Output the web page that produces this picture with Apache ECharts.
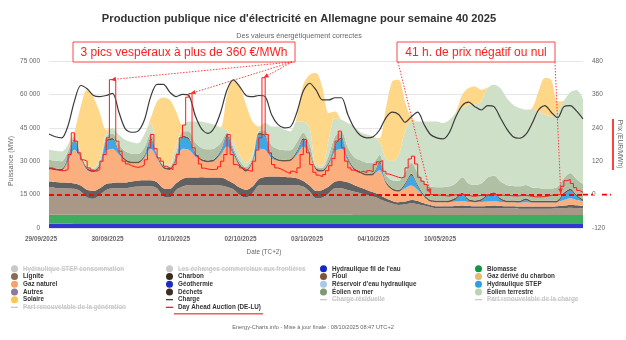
<!DOCTYPE html>
<html>
<head>
<meta charset="utf-8">
<script src="https://cdn.jsdelivr.net/npm/echarts@6/dist/echarts.min.js"></script>
<style>
  html, body { margin: 0; padding: 0; background: #ffffff; }
  #chart { width: 626px; height: 340px; }
</style>
</head>
<body>
<div id="chart"></div>
<script>
// ---- Data: week 40 2025, 2-hour samples (MW), Monday 00:00 -> next Monday 00:00 ----
const dayLabels = ['29/09/2025', '30/09/2025', '01/10/2025', '02/10/2025', '03/10/2025', '04/10/2025', '10/05/2025'];

const hydroRiver = [
  1900,1900,1900,1900,1850,1850,1850,1850,1850,1850,1850,1850,
  1850,1850,1850,1850,1850,1850,1850,1850,1850,1850,1850,1850,
  1850,1850,1850,1850,1850,1850,1850,1850,1850,1850,1850,1850,
  1850,1850,1850,1850,1850,1850,1850,1850,1800,1800,1800,1800,
  1750,1750,1750,1750,1750,1750,1750,1750,1750,1750,1750,1750,
  1750,1750,1750,1750,1750,1750,1750,1750,1750,1750,1750,1750,
  1750,1750,1750,1750,1750,1750,1750,1750,1750,1750,1750,1750,
  1750];
const biomass = [
  4000,4000,4000,4050,4100,4100,4100,4100,4100,4050,4050,4050,
  4050,4050,4050,4050,4050,4050,4050,4050,4050,4050,4050,4050,
  4050,4050,4050,4050,4050,4050,4050,4050,4050,4050,4050,4050,
  4050,4050,4050,4050,4050,4050,4050,4050,4100,4100,4100,4100,
  4100,4100,4100,4100,4100,4100,4100,4100,4100,4100,4100,4100,
  4100,4100,4100,4100,4100,4100,4100,4100,4100,4100,4100,4100,
  4100,4100,4100,4100,4100,4100,4100,4100,4100,4100,4100,4100,
  4100];
const lignite = [
  12250,12100,11950,11800,11650,10450,7750,7150,8950,11200,11950,11950,
  11950,12400,12700,12850,12850,11950,8200,7750,11200,12700,13450,13450,
  13450,13450,13300,13150,12550,11500,8950,7750,9700,13150,13450,13450,
  13450,13450,13450,13150,12700,10450,7450,7750,9700,11950,11950,11200,
  10500,9750,9000,8250,7200,6000,5100,4500,4800,5250,4800,4200,
  3600,3000,3000,3000,3000,3150,3000,3000,3000,3150,3150,3000,
  3000,3000,2850,2850,2850,2850,2850,2850,3000,3150,3300,3150,
  3000];
const hardCoal = [
  2700,2700,2550,2550,2400,2700,3450,3600,3000,2700,2400,2550,
  2550,2550,2700,2700,2700,2700,3750,3900,3000,3450,3300,3300,
  3450,3300,3450,3600,3150,2700,3300,3450,3000,3000,3600,3750,
  3750,3600,3450,3300,2550,2700,3300,3450,3000,3000,3300,3450,
  3000,2550,2250,1950,1800,1500,1200,1200,1200,1500,1500,1050,
  900,900,900,900,1050,1050,1050,900,900,900,1050,1050,
  900,900,900,900,900,900,900,900,900,1050,1200,1200,
  1050];
const gas = [
  5550,5250,5400,9600,15150,12300,9000,8400,9750,14550,15300,12450,
  9750,8250,7800,9900,14100,10800,9000,8550,9750,13500,12450,9450,
  7350,6900,7500,10200,15000,12750,9450,8250,10500,13500,12150,8250,
  7050,6900,7350,10500,15450,13800,9450,8250,9750,13500,14400,9300,
  6750,6450,6450,7800,11250,6750,4950,4800,6000,6450,4950,3000,
  1500,1800,1800,1950,1950,1950,1800,1800,1950,1950,1950,1800,
  1800,1800,1800,1950,1800,1800,1800,1800,1950,2550,3000,2400,
  2100];
const pumped = [
  0,0,0,1500,4000,300,0,0,0,4200,4050,1000,
  0,0,0,500,4050,500,0,0,1000,5100,4500,1000,
  0,0,0,1000,4500,1000,300,0,500,6300,6000,1000,
  0,0,0,1000,3000,500,0,0,500,2500,4500,1000,
  0,0,0,0,3000,0,0,0,1500,4500,1500,0,
  0,0,0,0,1000,3000,500,0,500,2500,3300,1000,
  0,0,0,1000,0,0,0,0,0,2500,3500,1500,
  0];
const waste = [
  800,800,800,800,800,800,800,800,800,800,800,800,
  800,800,800,800,800,800,800,800,800,800,800,800,
  800,800,800,800,800,800,800,800,800,800,800,800,
  800,800,800,800,800,800,800,800,800,800,800,800,
  800,800,800,800,800,800,800,800,800,800,800,800,
  800,800,800,800,800,800,800,800,800,800,800,800,
  800,800,800,800,800,800,800,800,800,800,800,800,
  800];
const windOffshore = [
  3500,3500,3400,2500,1500,600,600,600,1200,1500,2000,3000,
  3500,3500,3300,3500,2500,800,600,700,2000,2000,3000,4500,
  5000,5000,4800,3500,1000,1500,1500,1200,1000,700,2000,4000,
  4500,4300,4000,4000,2500,3500,700,900,3000,3500,2500,4500,
  5000,5000,5000,4800,3000,3000,3500,4000,5000,5000,5500,6000,
  6000,6000,6000,6200,6500,7000,7000,7000,7000,7500,7500,7500,
  7000,6500,6500,6000,6000,5800,5500,5500,6000,6500,7000,7000,
  7000];
const windOnshore = [
  4400,4400,4350,2700,1500,600,600,700,1800,1800,2450,4200,
  5150,5150,4900,5850,4200,900,600,800,3700,2150,4450,9450,
  11900,11750,10600,6850,1100,2700,2650,1750,1450,750,3200,8450,
  10150,9150,8400,9200,4950,7200,800,1100,7000,8200,5250,10950,
  13700,12600,12650,11550,5950,7450,8450,11700,18200,18500,22950,26950,
  29200,29500,28750,29900,31450,31050,35350,36000,36850,40200,40750,41850,
  39000,36500,35150,33750,34900,34350,33150,32400,33850,34600,36350,40100,
  38200];
const solar = [
  0,0,0,0,500,21000,34000,31500,20200,1500,0,0,
  0,0,0,0,2250,22500,29800,29200,15000,500,0,0,
  0,0,0,300,15850,27750,30750,26250,15000,1500,0,0,
  0,0,0,2250,16500,24000,41200,35000,12000,3000,0,0,
  0,0,0,0,1500,22500,36000,33750,13500,1500,0,0,
  0,0,0,0,500,6000,7500,8250,5250,300,0,0,
  0,0,0,0,750,9000,16500,16500,4500,300,0,0,
  0];
const load = [
  42200,41000,40500,46000,57000,64000,62500,59500,59000,59500,60500,52000,
  44500,43000,43500,48500,59000,64500,64500,61000,59000,60000,59500,50500,
  44500,42500,45000,52000,62000,66500,63500,59500,59000,59500,59000,51000,
  46500,45000,45500,52000,61500,65000,62000,57500,57500,58500,58500,51000,
  45000,41500,40500,41000,44000,49500,52000,51000,47500,50000,52000,46500,
  42000,40500,40000,43000,50000,55000,56500,54500,53000,55000,54500,49500,
  44500,41000,40300,42000,47000,53000,55000,52000,49500,54500,55000,52500,
  49000];

// Day-ahead price DE-LU, hourly (EUR/MWh)
const dayAheadPrice = [
  96,92,88,86,86,90,144,222,192,150,125,120,96,88,84,90,120,144,204,413,410,192,156,120,
  110,104,100,98,100,106,125,168,216,165,132,120,102,96,90,108,144,204,250,350,363,168,140,110,
  95,92,90,90,92,100,120,144,216,144,108,104,96,90,86,84,120,160,204,420,216,150,108,96,
  92,86,80,76,84,78,96,144,198,150,108,80,70,64,72,86,104,130,192,228,168,120,96,88,
  86,80,84,78,86,82,108,118,122,84,74,70,66,62,60,64,96,128,138,110,62,48,36,14,
  -0.01,-1,-2,-3,-4,-5,-3,-1,-0.5,-0.1,-0.01,-2,-5,-6,-4,-3,-1,-0.5,-0.01,-0.02,-0.5,-1,-2,-3,
  -3,-4,-5,-4,-3,-2,-4,-6,-8,-8,-8,-7,-5,-3,-1,-0.5,-0.01,30,50,54,40,25,15,8,
  6];

// ---- Chart ----
const FONT = '"Liberation Sans", Arial, sans-serif';
const T0 = Date.UTC(2025, 8, 29);           // Monday 29/09 00:00
const HOUR = 3600 * 1000;
const t = h => T0 + h * HOUR;
const xy = (step, vals) => vals.map((v, i) => [t(i * step), v]);

function area(name, vals, color, fill) {
  return {
    name, type: 'line', stack: 'prod', xAxisIndex: 0, yAxisIndex: 0,
    data: xy(2, vals), symbol: 'none', smooth: 0.3,
    color, lineStyle: { width: 0 }, areaStyle: { color: fill, opacity: 1 },
    emphasis: { disabled: true }, silent: true, z: 2
  };
}
// entries present in the legend without drawn values
function legendOnly(name, color) {
  return { name, type: 'line', data: [], symbol: 'none', color, lineStyle: { width: 0 } };
}
function lineOnly(name, color) {
  return { name, type: 'line', data: [], symbol: 'none', color, lineStyle: { width: 1.2 } };
}

const series = [
  area("Hydraulique fil de l'eau", hydroRiver, '#1227c4', '#3038cf'),
  area('Biomasse', biomass, '#0b9a3f', '#3dae60'),
  area('Lignite', lignite, '#8a6a52', '#a99888'),
  area('Charbon', hardCoal, '#3a2b1d', '#616161'),
  legendOnly('Fioul', '#80543a'),
  legendOnly('Gaz dérivé du charbon', '#e3bb72'),
  area('Gaz naturel', gas, '#f7a26a', '#fbae7e'),
  legendOnly('Géothermie', '#1a2bbf'),
  legendOnly("Réservoir d'eau hydraulique", '#a9c9ea'),
  area('Hydraulique STEP', pumped, '#2e9fe2', '#3ea8e6'),
  legendOnly('Autres', '#8c7a9c'),
  area('Déchets', waste, '#3e2d22', '#6a5444'),
  area('Éolien en mer', windOffshore, '#7d9b70', '#afc0a4'),
  area('Éolien terrestre', windOnshore, '#b7d4ad', '#cfe0c9'),
  area('Solaire', solar, '#ffc54f', '#fed789'),
  {
    name: 'Charge', type: 'line', data: xy(2, load), symbol: 'none', smooth: 0.3,
    color: '#3d3d3d', lineStyle: { width: 1.2, color: '#3a3a3a' }, z: 5, silent: true
  },
  {
    name: 'Day Ahead Auction (DE-LU)', type: 'line', yAxisIndex: 1, data: xy(1, dayAheadPrice),
    step: 'end', symbol: 'none', color: '#ff1a1a', lineStyle: { width: 1, color: '#ff1a1a' }, z: 6, silent: true,
    markLine: {
      silent: true, symbol: 'none', label: { show: false },
      lineStyle: { color: '#ff0000', type: [5, 3], width: 1.8 },
      emphasis: { disabled: true },
      data: [{ yAxis: 0 }]
    }
  },
  legendOnly('Hydraulique STEP consommation', '#9fb8d8'),
  legendOnly('Les échanges commerciaux aux frontières', '#9a9a9a'),
  lineOnly('Part renouvelable de la génération', '#5aa05a'),
  lineOnly('Charge résiduelle', '#777777'),
  lineOnly('Part renouvelable de la charge', '#5aa05a')
];

const LEGEND_TOP = 265, ROW_H = 7.7, ICON_W = 7, LEGEND_FONT = 6.3;
const LINE_ICON = 'path://M0,0H12V2.2H0Z';
const lineNames = ['Charge', 'Day Ahead Auction (DE-LU)', 'Part renouvelable de la génération', 'Charge résiduelle', 'Part renouvelable de la charge'];
const legendCols = [
  { left: 11, names: ['Hydraulique STEP consommation', 'Lignite', 'Gaz naturel', 'Autres', 'Solaire', 'Part renouvelable de la génération'],
    off: ['Hydraulique STEP consommation', 'Part renouvelable de la génération'] },
  { left: 166, names: ['Les échanges commerciaux aux frontières', 'Charbon', 'Géothermie', 'Déchets', 'Charge', 'Day Ahead Auction (DE-LU)'],
    off: ['Les échanges commerciaux aux frontières'] },
  { left: 320, names: ["Hydraulique fil de l'eau", 'Fioul', "Réservoir d'eau hydraulique", 'Éolien en mer', 'Charge résiduelle'],
    off: ['Charge résiduelle'] },
  { left: 475, names: ['Biomasse', 'Gaz dérivé du charbon', 'Hydraulique STEP', 'Éolien terrestre', 'Part renouvelable de la charge'],
    off: ['Part renouvelable de la charge'] }
];
function legendCol(col) {
  const selected = {};
  col.names.forEach(n => { selected[n] = col.off.indexOf(n) < 0; });
  return {
    orient: 'vertical', left: col.left, top: LEGEND_TOP, padding: 0,
    itemWidth: ICON_W, itemHeight: 7, itemGap: 0,
    icon: 'circle',
    inactiveColor: '#c8c8c8',
    selected,
    textStyle: { fontFamily: FONT, fontSize: LEGEND_FONT, fontWeight: 'bold', color: '#333', lineHeight: ROW_H },
    data: col.names.map(n => lineNames.indexOf(n) >= 0 ? { name: n, icon: LINE_ICON } : { name: n, icon: 'circle' })
  };
}

const chart = echarts.init(document.getElementById('chart'), null, { renderer: 'canvas' });

const option = {
  animation: false,
  backgroundColor: '#ffffff',
  grid: [
    { left: 49, right: 43, top: 61, bottom: 112, outerBoundsMode: 'none' },
    { left: 41, right: 53, top: 61, bottom: 112, outerBoundsMode: 'none' }
  ],
  xAxis: [
    { type: 'time', gridIndex: 0, min: t(0), max: t(168), show: false },
    {
      type: 'value', gridIndex: 1, min: 0, max: 8, interval: 1,
      axisLine: { show: false }, axisTick: { show: false }, splitLine: { show: false },
      axisLabel: {
        margin: 8, fontFamily: FONT, fontSize: 6.4, fontWeight: 'bold', color: '#666',
        formatter: v => dayLabels[v] || ''
      }
    }
  ],
  yAxis: [
    {
      type: 'value', gridIndex: 0, min: 0, max: 75000, interval: 15000,
      axisLine: { show: false }, axisTick: { show: false },
      splitLine: { lineStyle: { color: '#e6e6e6', width: 1 } },
      axisLabel: {
        margin: 9, fontFamily: FONT, fontSize: 6.5, color: '#666',
        formatter: v => v === 0 ? '0' : (v / 1000) + ' 000'
      }
    },
    {
      type: 'value', gridIndex: 0, position: 'right', min: -120, max: 480, interval: 120,
      axisLine: { show: false }, axisTick: { show: false }, splitLine: { show: false },
      axisLabel: { margin: 9, fontFamily: FONT, fontSize: 6.5, color: '#666' }
    },
    { type: 'value', gridIndex: 1, min: 0, max: 1, show: false }
  ],
  legend: legendCols.map(legendCol),
  series
};
chart.setOption(option);

// ---- Texts and annotations ----
function txt(x, y, text, size, color, extra) {
  return Object.assign({
    type: 'text', x, y, z: 50, silent: true,
    style: Object.assign({
      text, fill: color, fontFamily: FONT, fontSize: size,
      align: 'center', verticalAlign: 'middle', textAlign: 'center', textVerticalAlign: 'middle'
    }, (extra && extra.style) || {})
  }, extra && extra.el ? extra.el : {});
}
function arrow(x1, y1, x2, y2) {
  const dx = x2 - x1, dy = y2 - y1, len = Math.hypot(dx, dy);
  const ux = dx / len, uy = dy / len, px = -uy, py = ux;
  const L = 5, W = 2.3;
  return [
    { type: 'line', z: 60, silent: true, shape: { x1, y1, x2, y2 },
      style: { stroke: '#ff2a2a', lineWidth: 0.9, lineDash: [1.5, 1.5] } },
    { type: 'polygon', z: 61, silent: true,
      shape: { points: [[x2, y2], [x2 - ux * L + px * W, y2 - uy * L + py * W], [x2 - ux * L - px * W, y2 - uy * L - py * W]] },
      style: { fill: '#ff2a2a' } }
  ];
}

const px = h => chart.convertToPixel({ xAxisIndex: 0 }, t(h));
const py = v => chart.convertToPixel({ yAxisIndex: 1 }, v);

// evening price peaks above 360 EUR/MWh
const peaks = [];
let i = 0;
while (i < dayAheadPrice.length) {
  if (dayAheadPrice[i] > 360) {
    let best = i;
    while (i < dayAheadPrice.length && dayAheadPrice[i] > 360) {
      if (dayAheadPrice[i] > dayAheadPrice[best]) best = i;
      i++;
    }
    peaks.push([best + 0.5, dayAheadPrice[best]]);
  } else i++;
}
// hours with negative or zero price
const nonPos = dayAheadPrice.slice(0, 168).map((v, k) => v <= 0 ? k : -1).filter(k => k >= 0);
const firstNeg = nonPos[0], lastNeg = nonPos[nonPos.length - 1];
const y0 = py(0);

const graphics = [
  txt(299, 19, "Production publique nice d'électricité en Allemagne pour semaine 40 2025", 11.2, '#333',
    { style: { fontWeight: 'bold' } }),
  txt(299, 36, 'Des valeurs énergétiquement correctes', 7.2, '#666'),
  txt(313, 327, 'Energy-Charts.info - Mise à jour finale : 08/10/2025 08:47 UTC+2', 5.6, '#666'),
  txt(264, 252, 'Date (TC+2)', 6.3, '#666'),
  txt(11, 161, 'Puissance (MW)', 6.8, '#666', { el: { rotation: Math.PI / 2 } }),
  txt(620, 144, 'Prix (EUR/MWh)', 6.6, '#666', { el: { rotation: -Math.PI / 2 } }),
  { type: 'line', z: 50, silent: true, shape: { x1: 613, y1: 119, x2: 613, y2: 170 }, style: { stroke: '#ff0000', lineWidth: 1.5 } },
  { type: 'line', z: 40, silent: true, shape: { x1: 583, y1: y0, x2: 593, y2: y0 }, style: { stroke: '#ff0000', lineWidth: 1.8, lineDash: [5, 3] } },
  { type: 'line', z: 40, silent: true, shape: { x1: 602, y1: y0, x2: 611, y2: y0 }, style: { stroke: '#ff0000', lineWidth: 1.8, lineDash: [5, 3] } },
  { type: 'rect', z: 55, silent: true, shape: { x: 73, y: 42, width: 222, height: 20 }, style: { fill: '#ffffff', stroke: '#ff4444', lineWidth: 1 } },
  txt(184, 52.5, '3 pics vespéraux à plus de 360 €/MWh', 12, '#ff1f1f', { el: { z: 56 } }),
  { type: 'rect', z: 55, silent: true, shape: { x: 397, y: 42, width: 158, height: 20 }, style: { fill: '#ffffff', stroke: '#ff4444', lineWidth: 1 } },
  txt(476, 52.5, '41 h. de prix négatif ou nul', 12, '#ff1f1f', { el: { z: 56 } })
];
peaks.forEach(p => graphics.push(...arrow(292, 62, px(p[0]), py(p[1]))));
graphics.push(...arrow(398, 62, px(firstNeg), y0 - 1));
graphics.push(...arrow(555, 62, px(lastNeg + 1), y0 - 1));

// strike-through for hidden legend entries, red underline under the price entry
const ctx = document.createElement('canvas').getContext('2d');
ctx.font = 'bold ' + LEGEND_FONT + 'px ' + FONT;
legendCols.forEach(col => {
  col.names.forEach((n, k) => {
    const x1 = col.left + ICON_W + 5;
    const w = ctx.measureText(n).width;
    const yc = LEGEND_TOP + ROW_H / 2 + k * ROW_H;
    if (col.off.indexOf(n) >= 0) {
      graphics.push({ type: 'line', z: 50, silent: true, shape: { x1, y1: yc + 0.3, x2: x1 + w, y2: yc + 0.3 },
        style: { stroke: '#cfcfcf', lineWidth: 0.8 } });
    }
    if (n === 'Day Ahead Auction (DE-LU)') {
      graphics.push({ type: 'line', z: 50, silent: true, shape: { x1: x1 - 4, y1: yc + 6.5, x2: x1 + w + 2, y2: yc + 6.5 },
        style: { stroke: '#ff0000', lineWidth: 1 } });
    }
  });
});

chart.setOption({ graphic: graphics });
</script>
</body>
</html>
